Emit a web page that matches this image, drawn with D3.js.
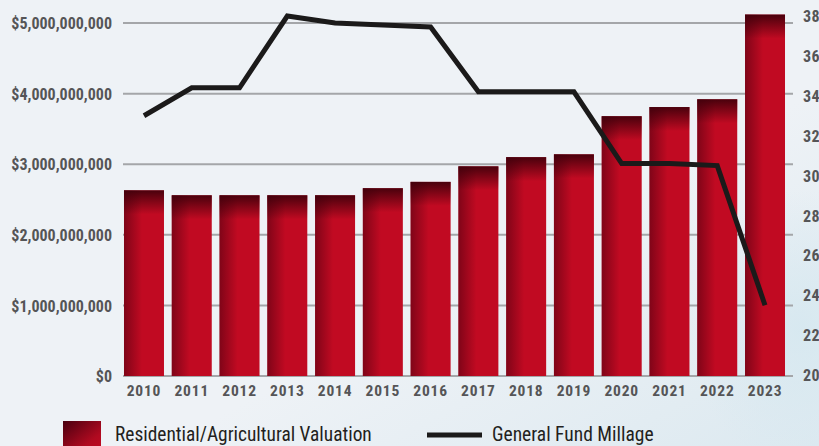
<!DOCTYPE html>
<html><head><meta charset="utf-8">
<script src="https://cdn.jsdelivr.net/npm/d3@7"></script>
<style>
html,body{margin:0;padding:0;background:#eef2f6;overflow:hidden}
svg{display:block}
</style></head>
<body>
<svg id="chart" width="819" height="446"></svg>
<script>
const years = ["2010","2011","2012","2013","2014","2015","2016","2017","2018","2019","2020","2021","2022","2023"];
const valuation = [2.63e9,2.56e9,2.56e9,2.56e9,2.56e9,2.66e9,2.75e9,2.97e9,3.10e9,3.14e9,3.68e9,3.81e9,3.92e9,5.12e9];
const millage = [33.0,34.4,34.4,38.0,37.65,37.55,37.45,34.2,34.2,34.2,30.6,30.6,30.5,23.5];
const leftTicks = [0,1e9,2e9,3e9,4e9,5e9];
const rightTicks = [20,22,24,26,28,30,32,34,36,38];
const legendLabels = ["Residential/Agricultural Valuation","General Fund Millage"];

const svg = d3.select("#chart");
const W = 819, H = 446;
const defs = svg.append("defs");

// background
const bg = defs.append("linearGradient").attr("id","bg").attr("x1","0").attr("y1","0").attr("x2","1").attr("y2","1");
bg.append("stop").attr("offset","0").attr("stop-color","#eef2f6");
bg.append("stop").attr("offset","0.6").attr("stop-color","#eef2f6");
bg.append("stop").attr("offset","1").attr("stop-color","#dce9f0");
svg.append("rect").attr("width",W).attr("height",H).attr("fill","url(#bg)");
const rb = defs.append("radialGradient").attr("id","rb").attr("cx","0.5").attr("cy","0.5").attr("r","0.5");
rb.append("stop").attr("offset","0").attr("stop-color","#d6e8f0").attr("stop-opacity","0.9");
rb.append("stop").attr("offset","1").attr("stop-color","#d6e8f0").attr("stop-opacity","0");
svg.append("ellipse").attr("cx",800).attr("cy",330).attr("rx",110).attr("ry",140).attr("fill","url(#rb)");

// bar gradients
const gh = defs.append("linearGradient").attr("id","gh").attr("x1","0").attr("x2","1").attr("y1","0").attr("y2","0");
gh.append("stop").attr("offset","0").attr("stop-color","#4a0010").attr("stop-opacity","0.55");
gh.append("stop").attr("offset","0.45").attr("stop-color","#4a0010").attr("stop-opacity","0");
const gv = defs.append("linearGradient").attr("id","gv").attr("x1","0").attr("x2","0").attr("y1","0").attr("y2","1");
gv.append("stop").attr("offset","0").attr("stop-color","#3c000a").attr("stop-opacity","0.9");
gv.append("stop").attr("offset","1").attr("stop-color","#3c000a").attr("stop-opacity","0");

const x = d3.scaleBand().domain(years).range([120.1, 788.9]).paddingInner(0.163).paddingOuter(0.0815);
const yL = d3.scaleLinear().domain([0, 5.1e9]).range([376, 16]);
const yR = d3.scaleLinear().domain([20, 38]).range([375, 16]);

const fontAxis = "'Liberation Sans Narrow','Roboto Condensed','DejaVu Sans Condensed',sans-serif";
const fontLeg = "'Liberation Sans Narrow','Roboto Condensed','DejaVu Sans Condensed',sans-serif";

// gridlines
svg.append("g").selectAll("line").data(leftTicks).join("line")
  .attr("x1",123).attr("x2",793)
  .attr("y1",d=>yL(d)).attr("y2",d=>yL(d))
  .attr("stroke","#a4a6a9").attr("stroke-width",2);

// left axis
const axL = d3.axisLeft(yL).tickValues(leftTicks).tickSize(0).tickPadding(0)
  .tickFormat(d => "$" + d3.format(",")(d));
const gL = svg.append("g").attr("transform","translate(112,0)").call(axL);
gL.select(".domain").remove();
gL.selectAll("text").attr("font-family",fontAxis).attr("font-weight","bold").attr("font-size",16).attr("fill","#555557").attr("dy","0.35em");

// right axis
const axR = d3.axisRight(yR).tickValues(rightTicks).tickSize(0).tickPadding(0);
const gR = svg.append("g").attr("transform","translate(803,0)").call(axR);
gR.select(".domain").remove();
gR.selectAll("text").attr("font-family",fontAxis).attr("font-weight","bold").attr("font-size",16).attr("letter-spacing","0.5px").attr("fill","#555557").attr("dy","0.35em");

// bottom axis
const axB = d3.axisBottom(x).tickSize(0).tickPadding(0);
const gB = svg.append("g").attr("transform","translate(0,385)").call(axB);
gB.select(".domain").remove();
gB.selectAll("text").attr("font-family",fontAxis).attr("font-weight","bold").attr("font-size",15.5).attr("letter-spacing","0.8px").attr("fill","#555557").attr("dy","0.71em");

// bars
const bars = svg.append("g").selectAll("g").data(years.map((y,i)=>({y, v: valuation[i]}))).join("g");
bars.append("rect").attr("x",d=>x(d.y)).attr("y",d=>yL(d.v)).attr("width",x.bandwidth()).attr("height",d=>yL(0)-yL(d.v)).attr("fill","#c10a22");
bars.append("rect").attr("x",d=>x(d.y)).attr("y",d=>yL(d.v)).attr("width",x.bandwidth()).attr("height",d=>yL(0)-yL(d.v)).attr("fill","url(#gh)");
bars.append("rect").attr("x",d=>x(d.y)).attr("y",d=>yL(d.v)).attr("width",x.bandwidth()).attr("height",24).attr("fill","url(#gv)");

// line
const line = d3.line().x((d,i)=>x(years[i]) + x.bandwidth()/2).y(d=>yR(d));
svg.append("path").datum(millage).attr("d",line).attr("fill","none").attr("stroke","#1b1a1a").attr("stroke-width",5).attr("stroke-linejoin","miter");

// legend
const lg = defs.append("linearGradient").attr("id","lg").attr("x1","0").attr("y1","0").attr("x2","1").attr("y2","1");
lg.append("stop").attr("offset","0").attr("stop-color","#4a0010");
lg.append("stop").attr("offset","0.7").attr("stop-color","#b00a20");
lg.append("stop").attr("offset","1").attr("stop-color","#c10a22");
svg.append("rect").attr("x",63).attr("y",421).attr("width",38).attr("height",30).attr("fill","url(#lg)");
svg.append("text").attr("x",115).attr("y",441).text(legendLabels[0])
  .attr("font-family",fontLeg).attr("font-size",19.4).attr("fill","#231f20");
svg.append("line").attr("x1",427).attr("x2",482).attr("y1",435).attr("y2",435).attr("stroke","#1b1a1a").attr("stroke-width",5);
svg.append("text").attr("x",492).attr("y",441).text(legendLabels[1])
  .attr("font-family",fontLeg).attr("font-size",19.5).attr("fill","#231f20");
</script>
</body></html>
